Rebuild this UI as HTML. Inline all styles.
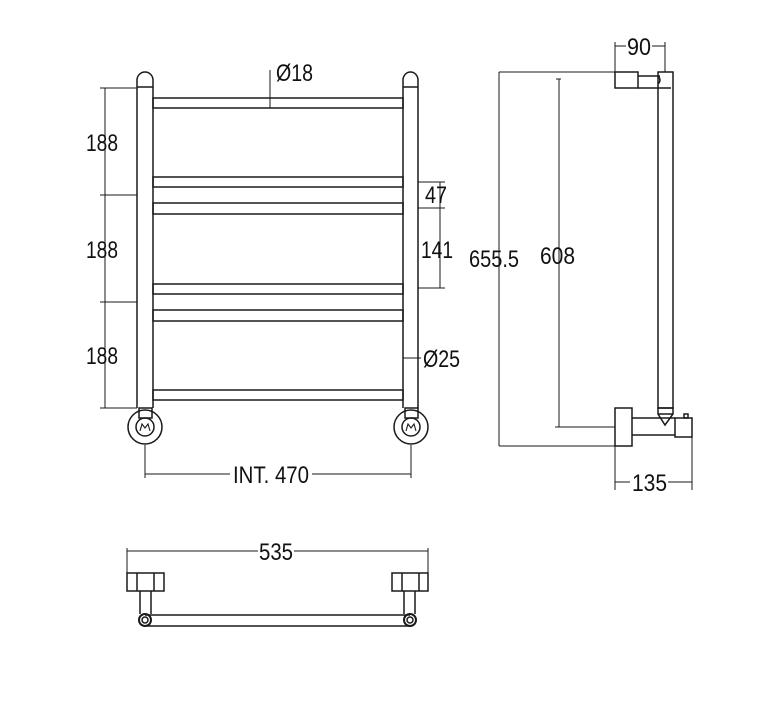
<!DOCTYPE html>
<html><head><meta charset="utf-8"><style>
html,body{margin:0;padding:0;background:#fff;width:762px;height:717px;overflow:hidden}
text{font-family:"Liberation Sans Narrow","Liberation Sans",sans-serif;font-size:24px;fill:#111}
</style></head><body>
<svg width="762" height="717" viewBox="0 0 762 717" xmlns="http://www.w3.org/2000/svg">
<g fill="none" stroke="#1a1a1a" stroke-width="1.5">
<path d="M137,87 V408 M153,87 V408 M403,87 V408 M418,87 V408"/>
<path d="M137,87 V80 a8,8 0 0 1 16,0 V87"/>
<path d="M403,87 V80 a7.5,8 0 0 1 15,0 V87"/>
<path d="M137,87 H153 M403,87 H418"/>
<rect x="153" y="98" width="250" height="10"/>
<rect x="153" y="177" width="250" height="10"/>
<rect x="153" y="203" width="250" height="11"/>
<rect x="153" y="284" width="250" height="10"/>
<rect x="153" y="310" width="250" height="11"/>
<rect x="153" y="390" width="250" height="10"/>
<circle cx="145" cy="427" r="17"/><circle cx="145" cy="427" r="9"/>
<circle cx="411" cy="427" r="17"/><circle cx="411" cy="427" r="9"/>
<rect x="139" y="408" width="13" height="10"/><rect x="405" y="408" width="13" height="10"/>
<path d="M140,431 l2,-7 l3,4 l3,-4 l2,7 M406,431 l2,-7 l3,4 l3,-4 l2,7" stroke-width="1.1"/>
<path d="M105,88 V408 M100,88 H137 M100,195 H137 M100,302 H137 M100,408 H137" stroke-width="1"/>
<path d="M270,70 V108" stroke-width="1"/>
<path d="M418,182 H445 M418,208 H445 M418,288 H445 M440,182 V288" stroke-width="1"/>
<path d="M403,358 H421" stroke-width="1"/>
<path d="M145,445 V478 M411,445 V478 M145,474 H230 M312,474 H411" stroke-width="1"/>
<path d="M499,72 V446 M499,72 H615 M499,446 H615" stroke-width="1"/>
<path d="M559,79 V427 M555,427 H615 M556,79 H561" stroke-width="1"/>
<rect x="615" y="72" width="23" height="16"/>
<path d="M638,76 H660 M638,88 H660"/>
<rect x="658" y="72" width="15" height="336"/>
<path d="M660,88 H671 M658,76 q4,4 0,8"/>
<rect x="615" y="408" width="17" height="38"/>
<path d="M632,418 H675 M632,435 H675"/>
<path d="M658,408 H673 V414 L665,425 L658,414 Z M658,414 H673"/>
<rect x="675" y="418" width="17" height="19"/>
<rect x="684" y="414" width="4" height="4"/>
<path d="M615,42 V72 M665,42 V72 M615,46 H626 M652,46 H665" stroke-width="1"/>
<path d="M615,446 V490 M692,437 V490 M615,482 H630 M668,482 H692" stroke-width="1"/>
<path d="M127,548 V591 M428,548 V591 M127,551 H258 M294,551 H428" stroke-width="1"/>
<rect x="127" y="573" width="37" height="18"/>
<path d="M137,573 V591 M154,573 V591"/>
<path d="M140,591 V614 M151,591 V614"/>
<rect x="392" y="573" width="36" height="18"/>
<path d="M402,573 V591 M419,573 V591"/>
<path d="M404,591 V614 M415,591 V614"/>
<path d="M145,615 H410 M145,626 H410"/>
<circle cx="145" cy="620" r="6" stroke-width="2"/><circle cx="145" cy="620" r="3"/>
<circle cx="410" cy="620" r="6" stroke-width="2"/><circle cx="410" cy="620" r="3"/>
</g>
<text x="276" y="81" textLength="37" lengthAdjust="spacingAndGlyphs">Ø18</text>
<text x="86" y="151" textLength="32" lengthAdjust="spacingAndGlyphs">188</text>
<text x="86" y="258" textLength="32" lengthAdjust="spacingAndGlyphs">188</text>
<text x="86" y="364" textLength="32" lengthAdjust="spacingAndGlyphs">188</text>
<text x="425" y="203" textLength="22" lengthAdjust="spacingAndGlyphs">47</text>
<text x="421" y="258" textLength="32" lengthAdjust="spacingAndGlyphs">141</text>
<text x="423" y="367" textLength="37" lengthAdjust="spacingAndGlyphs">Ø25</text>
<text x="233" y="483" textLength="76" lengthAdjust="spacingAndGlyphs">INT. 470</text>
<text x="469" y="267" textLength="50" lengthAdjust="spacingAndGlyphs">655.5</text>
<text x="540" y="264" textLength="35" lengthAdjust="spacingAndGlyphs">608</text>
<text x="627" y="55" textLength="24" lengthAdjust="spacingAndGlyphs">90</text>
<text x="632" y="491" textLength="35" lengthAdjust="spacingAndGlyphs">135</text>
<text x="259" y="560" textLength="34" lengthAdjust="spacingAndGlyphs">535</text>
</svg>
</body></html>
